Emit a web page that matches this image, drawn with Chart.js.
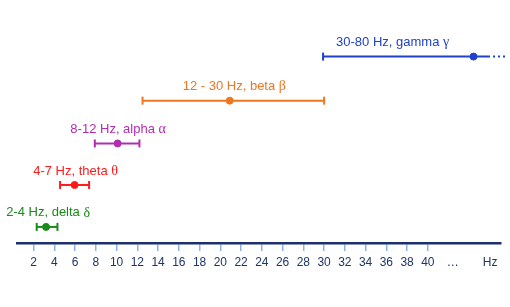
<!DOCTYPE html>
<html>
<head>
<meta charset="utf-8">
<script src="https://cdn.jsdelivr.net/npm/chart.js@4/dist/chart.umd.min.js"></script>
<style>
  body { margin: 0; background: #fff; }
  #wrap { width: 510px; height: 307px; }
</style>
</head>
<body>
<div id="wrap"><canvas id="myChart" width="510" height="307"></canvas></div>
<script>
// frequency bands (Hz)
const bandNames = ['2-4 Hz, delta ', '4-7 Hz, theta ', '8-12 Hz, alpha ', '12 - 30 Hz, beta ', '30-80 Hz, gamma '];
const greekLetters = ['δ', 'θ', 'α', 'β', 'γ'];
const bandLow = [2.3, 4.55, 7.9, 12.5, 29.9];
const bandMid = [3.2, 5.95, 10.1, 20.9, 44.4];
const bandHigh = [4.3, 7.35, 12.2, 30, 45.8];
const bandRow = [0.38, 1.37, 2.35, 3.36, 4.4];
const gammaTail = [45.8, 47.6];
const tickValues = [2, 4, 6, 8, 10, 12, 14, 16, 18, 20, 22, 24, 26, 28, 30, 32, 34, 36, 38, 40];
const extraTicks = [{ value: 42.4, label: '…' }, { value: 46, label: 'Hz' }];

const colors = ['#1a8a1a', '#ff1a1a', '#b22cb2', '#ee7722', '#1f42cc'];

function buildDatasets() {
    const sets = bandNames.map((name, i) => {
        const open = i === bandNames.length - 1; // gamma has no right cap
        return {
            label: name,
            data: [
                { x: bandLow[i], y: bandRow[i] },
                { x: bandMid[i], y: bandRow[i] },
                { x: bandHigh[i], y: bandRow[i] }
            ],
            borderColor: colors[i],
            borderWidth: 2,
            pointStyle: ['line', 'circle', 'line'],
            rotation: [90, 0, 90],
            pointRadius: [4, 3.5, open ? 0 : 4],
            pointBorderWidth: [2, 1, 2],
            pointBackgroundColor: colors[i],
            pointBorderColor: colors[i],
            clip: false
        };
    });
    sets.push({
        label: 'gamma tail',
        data: gammaTail.map(v => ({ x: v, y: bandRow[4] })),
        borderColor: colors[4],
        borderWidth: 2,
        borderDash: [2, 3],
        pointRadius: 0,
        clip: false
    });
    return sets;
}

// band captions: sans text + serif greek letter
const captionPlugin = {
    id: 'captions',
    afterDatasetsDraw(chart) {
        const ctx = chart.ctx;
        const xs = chart.scales.x, ys = chart.scales.y;
        ctx.save();
        ctx.textBaseline = 'middle';
        ctx.textAlign = 'left';
        bandNames.forEach((name, i) => {
            const sansFont = '13px "Liberation Sans", Arial, sans-serif';
            const serifFont = '14px "Liberation Serif", "Times New Roman", serif';
            ctx.font = sansFont;
            const w1 = ctx.measureText(name).width;
            ctx.font = serifFont;
            const w2 = ctx.measureText(greekLetters[i]).width;
            const total = w1 + w2;
            let x0;
            if (i === bandNames.length - 1) {
                x0 = xs.getPixelForValue(bandLow[i]) + 13;
            } else {
                x0 = (xs.getPixelForValue(bandLow[i]) + xs.getPixelForValue(bandHigh[i])) / 2 - total / 2 + 1;
            }
            const y = ys.getPixelForValue(bandRow[i]) - 14;
            ctx.fillStyle = colors[i];
            ctx.font = sansFont;
            ctx.fillText(name, x0, y);
            ctx.font = serifFont;
            ctx.fillText(greekLetters[i], x0 + w1, y);
        });
        ctx.restore();
    }
};

const ctx = document.getElementById('myChart').getContext('2d');
const chart = new Chart(ctx, {
    type: 'line',
    data: { datasets: buildDatasets() },
    options: {
        responsive: false,
        animation: false,
        events: [],
        layout: { padding: { top: 10, left: 17, right: 9, bottom: 0 } },
        plugins: {
            legend: { display: false },
            tooltip: { enabled: false }
        },
        scales: {
            x: {
                type: 'linear',
                position: 'bottom',
                min: 0.4,
                max: 47.05,
                afterBuildTicks(scale) {
                    scale.ticks = tickValues.map(v => ({ value: v }))
                        .concat(extraTicks.map(t => ({ value: t.value })));
                },
                afterFit(scale) { scale.height = 64; },
                border: { display: true, color: '#1c2f6e', width: 2.5 },
                grid: {
                    drawOnChartArea: false,
                    drawTicks: true,
                    tickLength: 8,
                    lineWidth: 1.5,
                    tickColor: c => (c.tick && c.tick.value > 40) ? 'rgba(0,0,0,0)' : '#8db3e2'
                },
                ticks: {
                    autoSkip: false,
                    maxRotation: 0,
                    padding: 4,
                    color: '#1f3566',
                    font: { family: '"Liberation Sans", Arial, sans-serif', size: 12 },
                    callback: v => {
                        const extra = extraTicks.find(t => t.value === v);
                        return extra ? extra.label : String(v);
                    }
                }
            },
            y: {
                type: 'linear',
                display: false,
                min: 0,
                max: 5.5
            }
        }
    },
    plugins: [captionPlugin]
});
</script>
</body>
</html>
